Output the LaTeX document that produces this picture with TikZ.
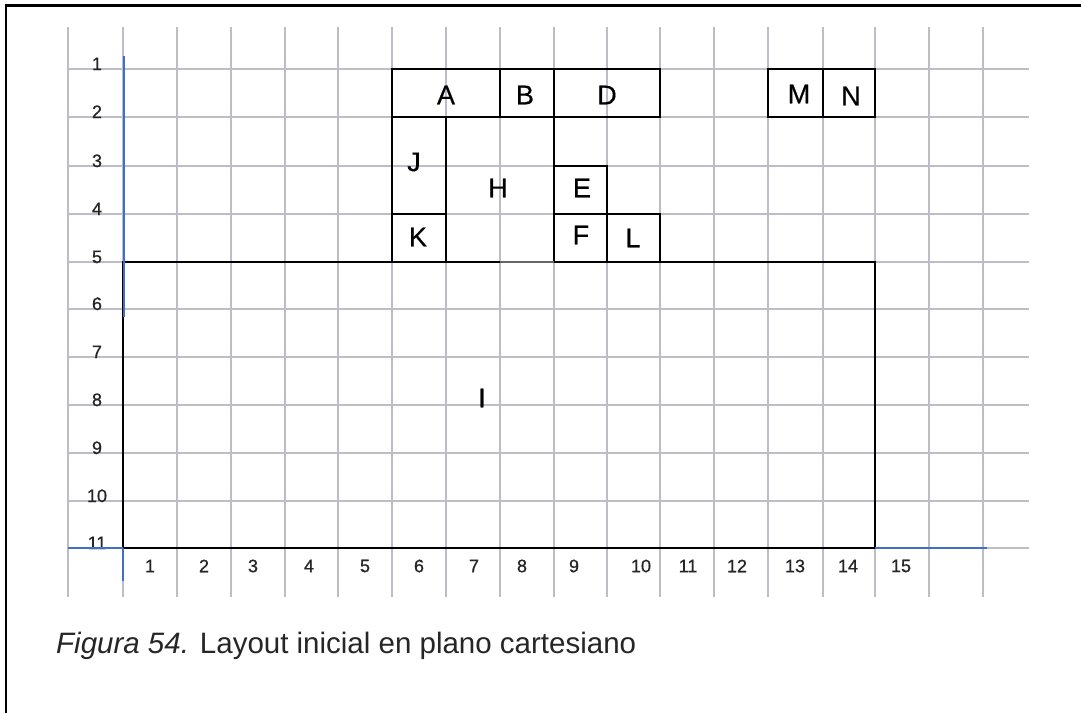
\documentclass[tikz,border=0pt]{standalone}
\usepackage{fontspec}
\setmainfont{Liberation Sans}
\newfontfamily\heavyfont[FakeBold=0.8]{Liberation Sans}
\newfontfamily\semiheavyfont[FakeBold=0.4]{Liberation Sans}
\definecolor{gridc}{HTML}{BDBDC8}
\definecolor{axisblue}{HTML}{3F6FC6}
\begin{document}
\begin{tikzpicture}[x=1pt,y=-1pt,
  gridline/.style={draw=gridc,line width=1.4pt},
  room/.style={draw=black,line width=1.5pt},
  axisline/.style={draw=axisblue,line width=1.6pt},
  roomlabel/.style={font=\semiheavyfont\fontsize{27}{30}\selectfont,inner sep=0pt},
  rowlabel/.style={font=\heavyfont\fontsize{18}{20}\selectfont,inner sep=0pt,anchor=base,text=black!85},
  collabel/.style={font=\heavyfont\fontsize{18}{20}\selectfont,inner sep=0pt,text=black!85},
  caption/.style={font=\fontsize{29.5}{34}\selectfont,inner sep=0pt,anchor=base west,text=black!85}
 ]
\fill[white] (0,0) rectangle (1081,713);
\useasboundingbox (0,0) rectangle (1081,713);
% frame
\draw[line width=2.4pt] (6,713) -- (6,5.5) -- (1081,5.5);
% grid
\foreach \x in {68,123,177,231,285,338,392,446,500,554,607,660,714,768,823,875,929,983}
  \draw[gridline] (\x,27) -- (\x,597);
\foreach \y in {69,117,166,214,262,309,357,405,453,501,548}
  \draw[gridline] (68,\y) -- (1029,\y);
% row labels
\foreach \y [count=\i] in {69,117,166,214,262,309,357,405,453,501,548}
  \node[rowlabel] (row\i) at (97,\y+1) {\i};
% column labels
\foreach \x [count=\i] in {150,204,253,309,365,419,474,522,574,641,688,737,795,848,901}
  \node[collabel] (col\i) at (\x,566) {\i};
% rooms
\draw[room] (392,69) rectangle (660,117);
\draw[room] (500,69) -- (500,117);
\draw[room] (554,69) -- (554,117);
\draw[room] (392,117) rectangle (446,214);
\draw[room] (392,214) rectangle (446,262);
\draw[room] (554,117) -- (554,262);
\draw[room] (554,166) rectangle (607,214);
\draw[room] (554,214) rectangle (607,262);
\draw[room] (607,214) rectangle (660,262);
\draw[room] (768,69) rectangle (823,117);
\draw[room] (823,69) rectangle (875,117);
% big room I
\draw[room] (500,262) -- (123,262) -- (123,548) -- (875,548) -- (875,262) -- (554,262);
\draw[draw=black!60,line width=1.4pt] (500,262) -- (554,262);
% axes (blue)
\draw[axisline] (124,56) -- (124,317);
\draw[axisline] (123,548) -- (123,581);
\draw[axisline] (68,548) -- (123,548);
\draw[axisline] (875,548) -- (987,548);
% room labels
\node[roomlabel] (lA) at (446,95) {A};
\node[roomlabel] (lB) at (525,95) {B};
\node[roomlabel] (lD) at (607,95) {D};
\node[roomlabel] (lJ) at (414,162) {J};
\node[roomlabel] (lH) at (498,188) {H};
\node[roomlabel] (lE) at (582,188) {E};
\node[roomlabel] (lK) at (418,237) {K};
\node[roomlabel] (lF) at (581,235) {F};
\node[roomlabel] (lL) at (633,238) {L};
\node[roomlabel] (lM) at (799,94) {M};
\node[roomlabel] (lN) at (851,96) {N};
\node[roomlabel] (lI) at (482,398) {I};
% caption
\node[caption] (cap) at (56,653) {\textit{Figura 54.} Layout inicial en plano cartesiano};
\end{tikzpicture}
\end{document}
